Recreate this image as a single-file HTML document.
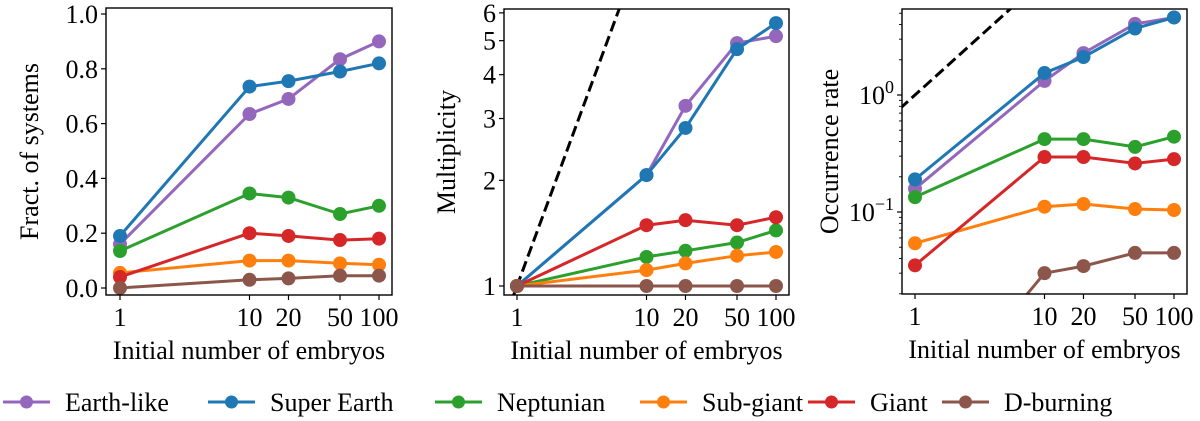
<!DOCTYPE html>
<html><head><meta charset="utf-8"><style>
body{margin:0;background:#fff}
svg{display:block}
text,tspan{font-family:"Liberation Serif","Times New Roman",Times,"Noto Serif CJK SC","DejaVu Serif",serif !important}
</style></head><body>
<svg id="c" width="1200" height="421"></svg>
<script>
const categories=[1,10,20,50,100];
const seriesNames=["Earth-like","Super Earth","Neptunian","Sub-giant","Giant","D-burning"];
const colors=["#9467bd","#1f77b4","#2ca02c","#ff7f0e","#d62728","#8c564b"];
const fracEarth=[0.16,0.635,0.69,0.835,0.90];
const fracSuper=[0.19,0.735,0.755,0.79,0.82];
const fracNept=[0.135,0.345,0.33,0.27,0.30];
const fracSub=[0.055,0.10,0.10,0.09,0.085];
const fracGiant=[0.04,0.20,0.19,0.175,0.18];
const fracD=[0.0,0.03,0.035,0.045,0.045];
const multEarth=[1,2.07,3.26,4.92,5.15];
const multSuper=[1,2.07,2.82,4.73,5.61];
const multNept=[1,1.21,1.26,1.33,1.44];
const multSub=[1,1.11,1.16,1.22,1.25];
const multGiant=[1,1.49,1.54,1.49,1.57];
const multD=[1,1,1,1,1];
const occEarth=[0.158,1.32,2.28,4.05,4.6];
const occSuper=[0.19,1.54,2.11,3.7,4.6];
const occNept=[0.134,0.42,0.42,0.36,0.44];
const occSub=[0.054,0.111,0.117,0.106,0.104];
const occGiant=[0.035,0.295,0.295,0.26,0.283];
const occD=[0.0014,0.030,0.0345,0.0447,0.0447];
const fracTicks=[0,0.2,0.4,0.6,0.8,1.0];
const multTicks=[1,2,3,4,5,6];
const xTickLabels=["1","10","20","50","100"];

const NS="http://www.w3.org/2000/svg";
const svg=document.getElementById('c');
function el(t,a,p){const e=document.createElementNS(NS,t);for(const k in a)e.setAttribute(k,a[k]);(p||svg).appendChild(e);return e;}

function panel(idx,box,x0,ypx,series,yticks,ylabel,ylabelX,dashed){
  const g=el('g',{});
  
  
  const xpx=v=>x0+129.5*Math.log10(v);
  const cid='clip'+idx;
  const cp=el('clipPath',{id:cid},g);el('rect',{x:box.l,y:box.t,width:box.r-box.l,height:box.b-box.t},cp);
  const inner=el('g',{'clip-path':'url(#'+cid+')'},g);
  if(dashed){
    const d=el('line',{x1:xpx(0.5),y1:ypx(0.5),x2:xpx(20),y2:ypx(20),stroke:'#000','stroke-width':3,'stroke-dasharray':'11,5'},inner);
    
    
  }
  series.forEach((s,i)=>{
    const sg=el('g',{},inner);
    
    
    const pts=s.map((v,j)=>xpx(categories[j]).toFixed(1)+','+ypx(v).toFixed(1)).join(' ');
    el('polyline',{points:pts,fill:'none',stroke:colors[i],'stroke-width':3},sg);
    s.forEach((v,j)=>{const c=el('circle',{cx:xpx(categories[j]),cy:ypx(v),r:7,fill:colors[i]},sg);
      
      });
  });
  el('rect',{x:box.l,y:box.t,width:box.r-box.l,height:box.b-box.t,fill:'none',stroke:'#000','stroke-width':1.4},g);
  categories.forEach((c,j)=>{
    const x=xpx(c);
    el('line',{x1:x,y1:box.b,x2:x,y2:box.b+5,stroke:'#000','stroke-width':1.2},g);
    const t=el('text',{x:x,y:box.b+31,'font-size':26,'text-anchor':'middle'},g);t.textContent=xTickLabels[j];
    
    
  });
  const xt=el('text',{x:(box.l+box.r)/2,y:box.b+64,'font-size':26,'text-anchor':'middle'},g);xt.textContent='Initial number of embryos';
  
  
  yticks(g,box);
  const yt=el('text',{x:0,y:0,'font-size':26,'text-anchor':'middle',transform:`translate(${ylabelX},${(box.t+box.b)/2}) rotate(-90)`},g);yt.textContent=ylabel;
  
  
}

// Panel 1
const y1=v=>288-274*v;
panel(0,{l:106,r:392,t:8,b:295},120,y1,[fracEarth,fracSuper,fracNept,fracSub,fracGiant,fracD],(g,box)=>{
  fracTicks.forEach(v=>{el('line',{x1:box.l,y1:y1(v),x2:box.l-5,y2:y1(v),stroke:'#000','stroke-width':1.2},g);
    const t=el('text',{x:box.l-8,y:y1(v)+9,'font-size':26,'text-anchor':'end'},g);t.textContent=v.toFixed(1);});
},'Fract. of systems',38,false);

// Panel 2
const y2=v=>286-351*Math.log10(v);
panel(1,{l:504,r:789,t:9,b:295},517,y2,[multEarth,multSuper,multNept,multSub,multGiant,multD],(g,box)=>{
  multTicks.forEach(v=>{el('line',{x1:box.l,y1:y2(v),x2:box.l-5,y2:y2(v),stroke:'#000','stroke-width':1.2},g);
    const t=el('text',{x:box.l-8,y:y2(v)+9,'font-size':26,'text-anchor':'end'},g);t.textContent=String(v);});
},'Multiplicity',455,true);

// Panel 3
const y3=v=>95-117*Math.log10(v);
panel(2,{l:902,r:1187,t:9,b:294},915,y3,[occEarth,occSuper,occNept,occSub,occGiant,occD],(g,box)=>{
  for(let d=-2;d<=0;d++)for(let m=1;m<10;m++){const v=m*Math.pow(10,d);const y=y3(v);if(y<box.t||y>box.b)continue;
    const major=m===1;el('line',{x1:box.l,y1:y,x2:box.l-(major?5:3),y2:y,stroke:'#000','stroke-width':major?1.2:0.9},g);}
  [[0,'0'],[-1,'−1']].forEach(([e,s])=>{const t=el('text',{x:box.l-8,y:y3(Math.pow(10,e))+9,'font-size':26,'text-anchor':'end'},g);
    t.textContent='10';const sp=el('tspan',{dy:-11,'font-size':18},t);sp.textContent=s;});
},'Occurrence rate',838,true);

// Legend
const legX=[3,208,435,640,808,942];
const lg=el('g',{});


seriesNames.forEach((n,i)=>{
  const e=el('g',{},lg);
  
  
  const x=legX[i];
  el('line',{x1:x,y1:402,x2:x+47,y2:402,stroke:colors[i],'stroke-width':3},e);
  el('circle',{cx:x+23.5,cy:402,r:6.5,fill:colors[i]},e);
  const t=el('text',{x:x+62,y:411,'font-size':26},e);t.textContent=n;
});
</script>
</body></html>
